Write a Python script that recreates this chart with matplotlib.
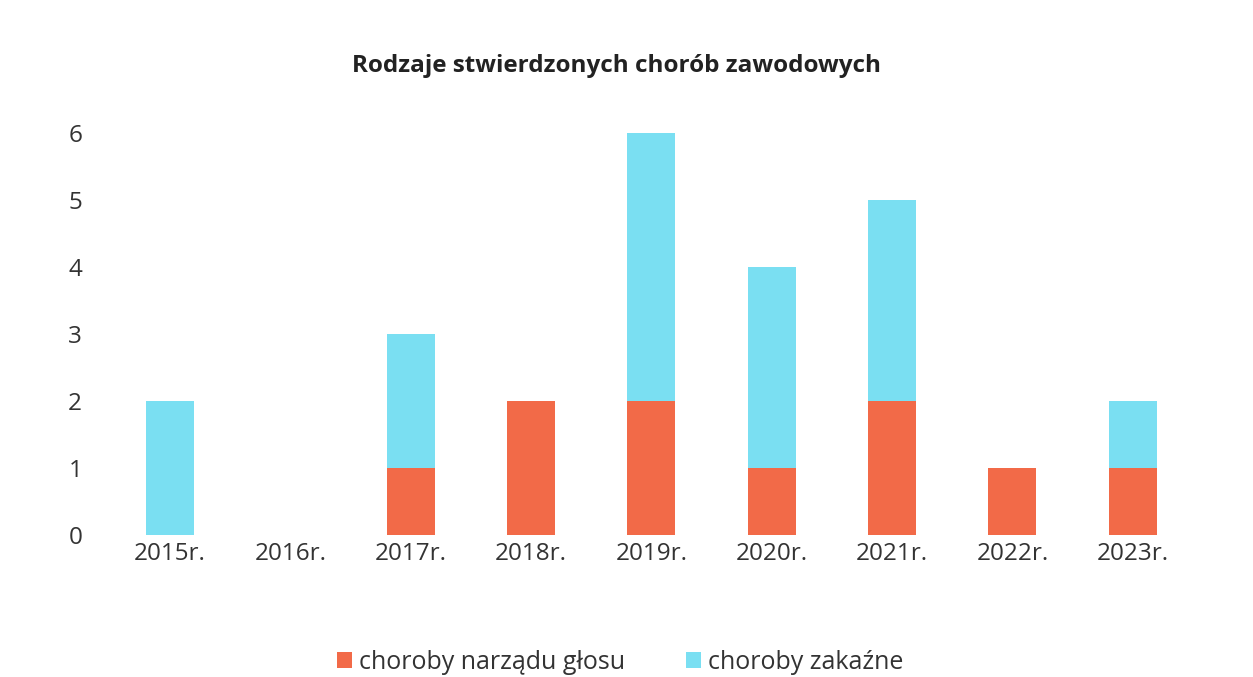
import matplotlib
matplotlib.use("Agg")
import matplotlib.pyplot as plt
import numpy as np

# chart data
years = ["2015r.", "2016r.", "2017r.", "2018r.", "2019r.", "2020r.", "2021r.", "2022r.", "2023r."]
glos = [0, 0, 1, 2, 2, 1, 2, 1, 1]        # choroby narządu głosu
zakazne = [2, 0, 2, 0, 4, 3, 3, 0, 1]     # choroby zakaźne

ORANGE = "#F26A48"
CYAN = "#7ADFF2"
plt.rcParams["font.family"] = ["Open Sans", "DejaVu Sans"]

fig = plt.figure(figsize=(12.53, 6.77), dpi=100)
ax = fig.add_axes([0.0878, 0.2097, 0.8642, 0.5938])

x = np.arange(len(years))
ax.bar(x, glos, width=0.4, color=ORANGE, label="choroby narządu głosu")
ax.bar(x, zakazne, width=0.4, bottom=glos, color=CYAN, label="choroby zakaźne")

ax.set_xlim(-0.5, len(years) - 0.5)
ax.set_ylim(0, 6)
ax.set_yticks(range(7))
ax.set_xticks(x, years)
ax.tick_params(length=0, labelsize=17.5, colors="#333333")
ax.tick_params(axis="y", pad=20)
ax.tick_params(axis="x", pad=5)
for s in ax.spines.values():
    s.set_visible(False)

fig.text(0.492, 0.903, "Rodzaje stwierdzonych chorób zawodowych",
         ha="center", va="center", fontsize=17.5, fontweight="bold", color="#222222")

fig.legend(loc="center", bbox_to_anchor=(0.495, 0.022), ncol=2, frameon=False,
           fontsize=18, handlelength=0.6, handleheight=0.6, handletextpad=0.3,
           columnspacing=2.4, labelcolor="#333333")

fig.savefig("out.png", dpi=100, facecolor="white")
